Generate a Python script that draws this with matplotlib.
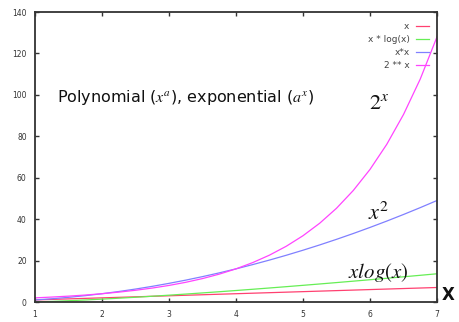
import matplotlib
matplotlib.use("Agg")
import matplotlib.pyplot as plt

plt.rcParams['mathtext.fontset'] = 'stix'

x = [1, 1.25, 1.5, 1.75, 2, 2.25, 2.5, 2.75, 3, 3.25, 3.5, 3.75, 4, 4.25, 4.5,
     4.75, 5, 5.25, 5.5, 5.75, 6, 6.25, 6.5, 6.75, 7]
y_x = x[:]
y_xlogx = [0, 0.279, 0.608, 0.979, 1.386, 1.825, 2.291, 2.782, 3.296, 3.831,
           4.385, 4.957, 5.545, 6.149, 6.768, 7.401, 8.047, 8.706, 9.376,
           10.058, 10.751, 11.454, 12.167, 12.889, 13.621]
y_xx = [1, 1.56, 2.25, 3.06, 4, 5.06, 6.25, 7.56, 9, 10.56, 12.25, 14.06, 16,
        18.06, 20.25, 22.56, 25, 27.56, 30.25, 33.06, 36, 39.06, 42.25, 45.56, 49]
y_2x = [2, 2.38, 2.83, 3.36, 4, 4.76, 5.66, 6.73, 8, 9.51, 11.31, 13.45, 16,
        19.03, 22.63, 26.91, 32, 38.05, 45.25, 53.82, 64, 76.11, 90.51, 107.63, 128]
labels = ["x", "x * log(x)", "x*x", "2 ** x"]
colors = ["#ff4070", "#66ee55", "#8080ff", "#ff44ff"]
xticks = [1, 2, 3, 4, 5, 6, 7]
yticks = [0, 20, 40, 60, 80, 100, 120, 140]

fig = plt.figure(figsize=(4.59, 3.22), dpi=100)
ax = fig.add_axes([35/459, 20/322, 402/459, 290/322])

for ys, lab, c in zip([y_x, y_xlogx, y_xx, y_2x], labels, colors):
    ax.plot(x, ys, color=c, lw=0.9, label=lab)

ax.set_xlim(1, 7)
ax.set_ylim(0, 140)
ax.set_xticks(xticks)
ax.set_yticks(yticks)
ax.tick_params(direction='in', top=True, right=True, length=3, width=1,
               labelsize=5.5, labelcolor='#333333', color='#333333', pad=6)
for s in ax.spines.values():
    s.set_linewidth(1.3)
    s.set_color('#333333')

leg = ax.legend(loc='upper right', frameon=False, markerfirst=False,
                fontsize=6.5, handlelength=1.45, handletextpad=0.7,
                labelspacing=0.45, borderaxespad=0, borderpad=0,
                bbox_to_anchor=(1 - 8/402, 1 - 10/290))
for t in leg.get_texts():
    t.set_color('#444444')

ax.text(0.055, 0.69, r"Polynomial ($x^a$), exponential ($a^x$)",
        transform=ax.transAxes, fontsize=11.5, color='#111111')
ax.text(5.98, 93, r"$2^x$", fontsize=16, color='#111111')
ax.text(5.97, 39.5, r"$x^2$", fontsize=16, color='#111111')
ax.text(5.67, 11.5, r"$xlog(x)$", fontsize=15, color='#111111')
fig.text(448/459, 27/322, "X", fontsize=12, fontweight='bold', ha='center',
         va='center', color='#111111')

fig.savefig("out.png", dpi=100)
